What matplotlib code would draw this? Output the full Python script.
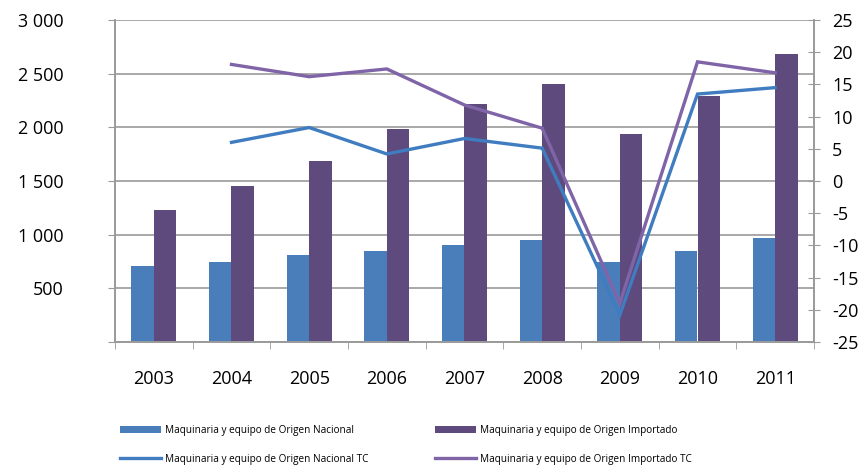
import numpy as np
import matplotlib.pyplot as plt
from matplotlib.ticker import FuncFormatter

plt.rcParams['font.family'] = ['Open Sans', 'DejaVu Sans']
plt.rcParams['axes.unicode_minus'] = False

years = ['2003', '2004', '2005', '2006', '2007', '2008', '2009', '2010', '2011']
nacional = [705, 748, 808, 848, 900, 950, 745, 848, 972]
importado = [1230, 1453, 1690, 1980, 2217, 2400, 1940, 2295, 2683]
# tasas de crecimiento (eje derecho), sin dato para 2003
nacional_tc = [np.nan, 6.0, 8.3, 4.2, 6.6, 5.1, -20.8, 13.5, 14.5]
importado_tc = [np.nan, 18.1, 16.2, 17.4, 11.8, 8.2, -19.0, 18.5, 16.8]

c_nac = '#4a7ebb'
c_imp = '#5f4a7e'
c_nac_line = '#3f7cc0'
c_imp_line = '#8064a8'
grid_c = '#9a9a9a'

fig = plt.figure(figsize=(8.64, 4.65), dpi=100)
ax = fig.add_axes([115/864, 1 - 342/465, 699/864, 322/465])
ax2 = ax.twinx()

x = np.arange(len(years))
w = 0.288
b1 = ax.bar(x - w/2, nacional, w, color=c_nac, zorder=2)
b2 = ax.bar(x + w/2, importado, w, color=c_imp, zorder=2)

l1, = ax2.plot(x, nacional_tc, color=c_nac_line, lw=2.4, solid_joinstyle='miter')
l2, = ax2.plot(x, importado_tc, color=c_imp_line, lw=2.4, solid_joinstyle='miter')

ax.set_xlim(-0.5, len(years) - 0.5)
ax.set_ylim(0, 3000)
ax.set_yticks(np.arange(0, 3001, 500))
ax.yaxis.set_major_formatter(FuncFormatter(
    lambda v, p: '' if v == 0 else '{:,.0f}'.format(v).replace(',', ' ')))
ax.grid(axis='y', color=grid_c, lw=1.2, zorder=0)
ax.set_axisbelow(True)

ax2.set_ylim(-25, 25)
ax2.set_yticks(np.arange(-25, 26, 5))

ax.set_xticks(x)
ax.set_xticklabels(years)
ax.set_xticks(np.arange(-0.5, len(years)), minor=True)
ax.tick_params(axis='x', which='major', length=0, pad=20, labelsize=13)
ax.tick_params(axis='x', which='minor', length=5, color=grid_c, direction='out')
ax.tick_params(axis='y', length=5, color=grid_c, direction='out', pad=32, labelsize=13)
ax2.tick_params(axis='y', length=8, color=grid_c, direction='inout', pad=9, labelsize=13)

for a in (ax, ax2):
    a.spines['top'].set_visible(False)
    for s in ('left', 'right', 'bottom'):
        a.spines[s].set_color(grid_c)
        a.spines[s].set_linewidth(1.2)

fig.legend([b1, l1, b2, l2],
           ['Maquinaria y equipo de Origen Nacional',
            'Maquinaria y equipo de Origen Nacional TC',
            'Maquinaria y equipo de Origen Importado',
            'Maquinaria y equipo de Origen Importado TC'],
           ncol=2, loc='upper left', bbox_to_anchor=(111/864, 1 - 416/465),
           frameon=False, fontsize=7.2, handlelength=4.1, handleheight=0.6,
           handletextpad=0.4, columnspacing=6.7, labelspacing=1.75)

fig.savefig('out.png', dpi=100)
